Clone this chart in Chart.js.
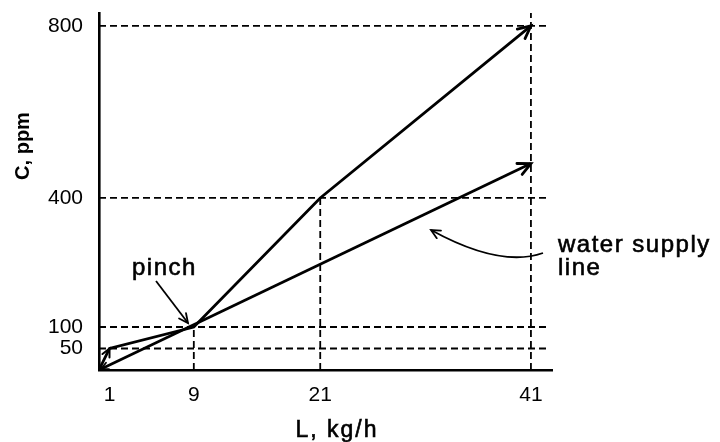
<!DOCTYPE html>
<html>
<head>
<meta charset="utf-8">
<script src="https://cdn.jsdelivr.net/npm/chart.js@4"></script>
<style>
  html, body { margin: 0; padding: 0; background: #fff; }
  #wrap { width: 720px; height: 442px; }
</style>
</head>
<body>
<div id="wrap"><canvas id="grafico"></canvas></div>
<script>
// valores
const compositeL = [0, 1, 9, 21, 41];
const compositeC = [0, 50, 100, 400, 800];
const supplyL = [0, 41];
const supplyC = [0, 480];
const xTicks = [1, 9, 21, 41];
const yTicks = [50, 100, 400, 800];
const vertRefTop = [null, 100, 400, 830]; // altura das linhas tracejadas verticais
const refEndL = 42.7;
const xMax = 43;
const yMax = 830;

const FONT = '"Liberation Sans", Arial, sans-serif';

function pts(xs, ys) {
  return xs.map((x, i) => ({ x: x, y: ys[i] }));
}

const datasets = [];

// linhas tracejadas de referência
yTicks.forEach(v => {
  datasets.push({
    data: pts([0, refEndL], [v, v]),
    borderColor: '#000', borderWidth: 1.8, borderDash: [7, 4],
    pointRadius: 0, showLine: true
  });
});
xTicks.forEach((v, i) => {
  if (vertRefTop[i] === null) return;
  datasets.push({
    data: pts([v, v], [0, vertRefTop[i]]),
    borderColor: '#000', borderWidth: 1.8, borderDash: [7, 4],
    pointRadius: 0, showLine: true
  });
});

// curva composta e linha de suprimento
datasets.push({
  label: 'composite',
  data: pts(compositeL, compositeC),
  borderColor: '#000', borderWidth: 2.8, pointRadius: 0, showLine: true
});
datasets.push({
  label: 'supply',
  data: pts(supplyL, supplyC),
  borderColor: '#000', borderWidth: 2.8, pointRadius: 0, showLine: true
});

function arrowHead(ctx, x0, y0, x1, y1, len, width) {
  const a = Math.atan2(y1 - y0, x1 - x0);
  const spread = 0.45;
  ctx.save();
  ctx.strokeStyle = '#000';
  ctx.lineWidth = width;
  ctx.lineCap = 'round';
  ctx.lineJoin = 'miter';
  ctx.beginPath();
  ctx.moveTo(x1 - len * Math.cos(a - spread), y1 - len * Math.sin(a - spread));
  ctx.lineTo(x1, y1);
  ctx.lineTo(x1 - len * Math.cos(a + spread), y1 - len * Math.sin(a + spread));
  ctx.stroke();
  ctx.restore();
}

// texto um pouco mais "gordo", como na figura escaneada
function boldishText(ctx, txt, x, y) {
  ctx.fillText(txt, x, y);
  ctx.strokeText(txt, x, y);
}

const annotations = {
  id: 'annotations',
  afterDatasetsDraw(chart) {
    const ctx = chart.ctx;
    const xs = chart.scales.x, ys = chart.scales.y;
    const px = v => xs.getPixelForValue(v);
    const py = v => ys.getPixelForValue(v);

    // pontas de seta nas linhas
    const n = compositeL.length - 1;
    arrowHead(ctx, px(compositeL[n - 1]), py(compositeC[n - 1]), px(compositeL[n]), py(compositeC[n]), 14, 2.8);
    arrowHead(ctx, px(compositeL[0]), py(compositeC[0]), px(compositeL[1]), py(compositeC[1]), 9, 2);
    arrowHead(ctx, px(supplyL[0]), py(supplyC[0]), px(supplyL[1]), py(supplyC[1]), 14, 2.8);
    arrowHead(ctx, px(supplyL[1]), py(supplyC[1]), px(supplyL[0]) + 2, py(supplyC[0]) - 1, 8, 1.8);

    ctx.save();
    ctx.fillStyle = '#000';
    ctx.strokeStyle = '#000';
    ctx.lineWidth = 0.6;

    // títulos dos eixos
    ctx.font = 'bold 20px ' + FONT;
    ctx.textAlign = 'center';
    ctx.textBaseline = 'middle';
    ctx.save();
    ctx.translate(23, 146);
    ctx.rotate(-Math.PI / 2);
    ctx.fillText('C, ppm', 0, 0);
    ctx.restore();

    ctx.font = '23px ' + FONT;
    ctx.letterSpacing = '2px';
    ctx.textBaseline = 'alphabetic';
    boldishText(ctx, 'L, kg/h', 337, 437);

    // rótulos
    ctx.textAlign = 'left';
    ctx.font = '24px ' + FONT;
    ctx.letterSpacing = '1.5px';
    boldishText(ctx, 'pinch', 132, 275);
    boldishText(ctx, 'water supply', 558, 252);
    boldishText(ctx, 'line', 558, 275);
    ctx.letterSpacing = '0px';

    // seta do pinch
    ctx.lineWidth = 1.8;
    ctx.beginPath();
    ctx.moveTo(156, 281);
    ctx.lineTo(188, 323);
    ctx.stroke();
    arrowHead(ctx, 156, 281, 188, 323, 10, 1.8);

    // seta curva
    ctx.beginPath();
    ctx.moveTo(543, 253);
    ctx.quadraticCurveTo(500, 268, 431, 230);
    ctx.stroke();
    arrowHead(ctx, 460, 246, 431, 230, 10, 1.8);
    ctx.restore();
  }
};

new Chart(document.getElementById('grafico'), {
  type: 'scatter',
  data: { datasets: datasets },
  options: {
    responsive: true,
    maintainAspectRatio: false,
    animation: false,
    events: [],
    layout: { padding: { top: 13, right: 168, left: 0, bottom: 0 } },
    plugins: { legend: { display: false }, tooltip: { enabled: false } },
    scales: {
      x: {
        type: 'linear', min: 0, max: xMax,
        afterBuildTicks: s => { s.ticks = xTicks.map(v => ({ value: v })); },
        afterFit: s => { s.height = 72; s.paddingLeft = 0; s.paddingRight = 0; },
        grid: { display: false, drawTicks: false },
        border: { display: true, color: '#000', width: 2.6 },
        ticks: { color: '#000', padding: 13, maxRotation: 0, font: { family: FONT, size: 21 } }
      },
      y: {
        type: 'linear', min: 0, max: yMax,
        afterBuildTicks: s => { s.ticks = yTicks.map(v => ({ value: v })); },
        afterFit: s => { s.width = 99; s.paddingTop = 0; s.paddingBottom = 0; },
        grid: { display: false, drawTicks: false },
        border: { display: true, color: '#000', width: 2.6 },
        ticks: { color: '#000', padding: 16, font: { family: FONT, size: 21 } }
      }
    }
  },
  plugins: [annotations]
});
</script>
</body>
</html>
